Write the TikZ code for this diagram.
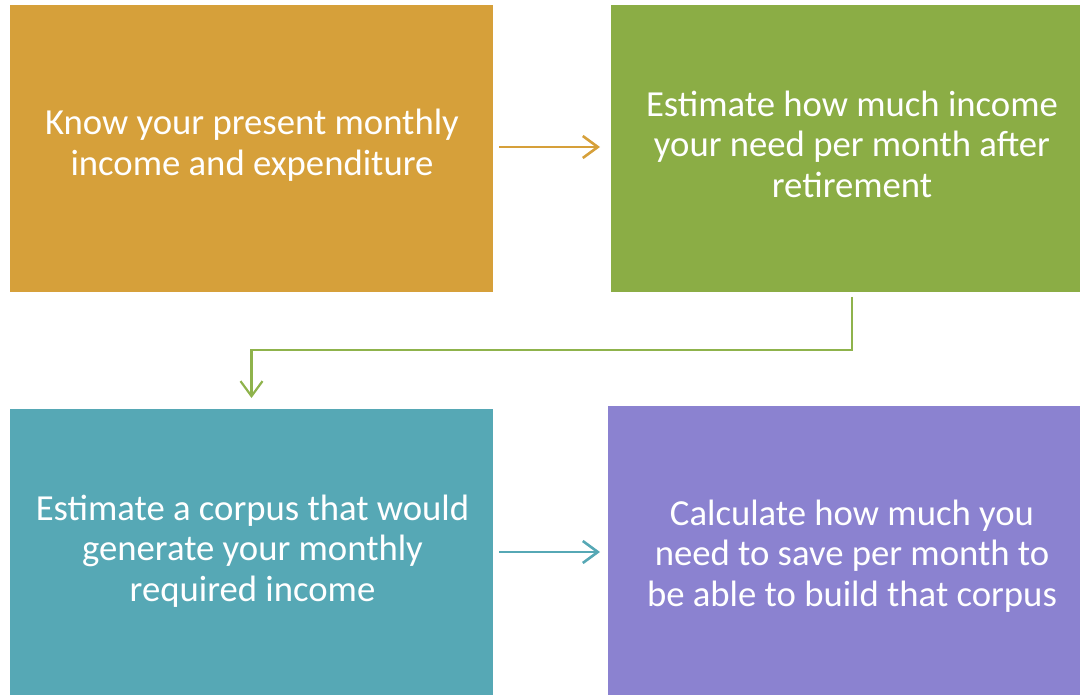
\documentclass[tikz,border=0pt]{standalone}
\usepackage{fontspec}
\setmainfont{Carlito}
\usetikzlibrary{arrows.meta}
\definecolor{cOrange}{HTML}{D6A03A}
\definecolor{cGreen}{HTML}{8BAD45}
\definecolor{cGreenL}{HTML}{8FB34C}
\definecolor{cTeal}{HTML}{56A8B5}
\definecolor{cPurple}{HTML}{8B82D0}
\tikzset{
  box/.style={draw=none, inner sep=0pt, outer sep=0pt},
  txt/.style={text=white, align=center, font=\fontsize{36.7}{40.5}\selectfont, inner sep=0pt},
  arr/.style={line width=2.6pt, -{Straight Barb[length=15pt, width=22pt]}},
}
\begin{document}
\begin{tikzpicture}[x=1pt,y=-1pt]
\useasboundingbox (0,0) rectangle (1080,695);
\node[box, fill=cOrange, minimum width=483pt, minimum height=287pt] (b1) at (251.5,148.5) {};
\node[box, fill=cGreen, minimum width=469pt, minimum height=287pt] (b2) at (845.5,148.5) {};
\node[box, fill=cTeal, minimum width=483pt, minimum height=286pt] (b3) at (251.5,552) {};
\node[box, fill=cPurple, minimum width=472pt, minimum height=289pt] (b4) at (844,550.5) {};
\node[txt] (t1) at (252,145) {Know your present monthly\\income and expenditure};
\node[txt] (t2) at (852,144) {Estimate how much income\\your need per month after\\retirement};
\node[txt] (t3) at (252.5,551) {Estimate a corpus that would\\generate your monthly\\required income};
\node[txt] (t4) at (852,556) {Calculate how much you\\need to save per month to\\be able to build that corpus};
\draw[arr, draw=cOrange] ([xshift=6pt,yshift=1.5pt]b1.east) -- ([xshift=-11pt,yshift=1.5pt]b2.west);
\draw[arr, draw=cTeal] ([xshift=6pt]b3.east) -- ([xshift=-8pt]b4.west |- b3.east);
\draw[line width=2.2pt, draw=cGreenL, -{Straight Barb[length=15pt, width=22pt]}]
  ([xshift=6.5pt,yshift=-5pt]b2.south) -- ++(0,53) -| ([yshift=11pt]b3.north);
\end{tikzpicture}
\end{document}
